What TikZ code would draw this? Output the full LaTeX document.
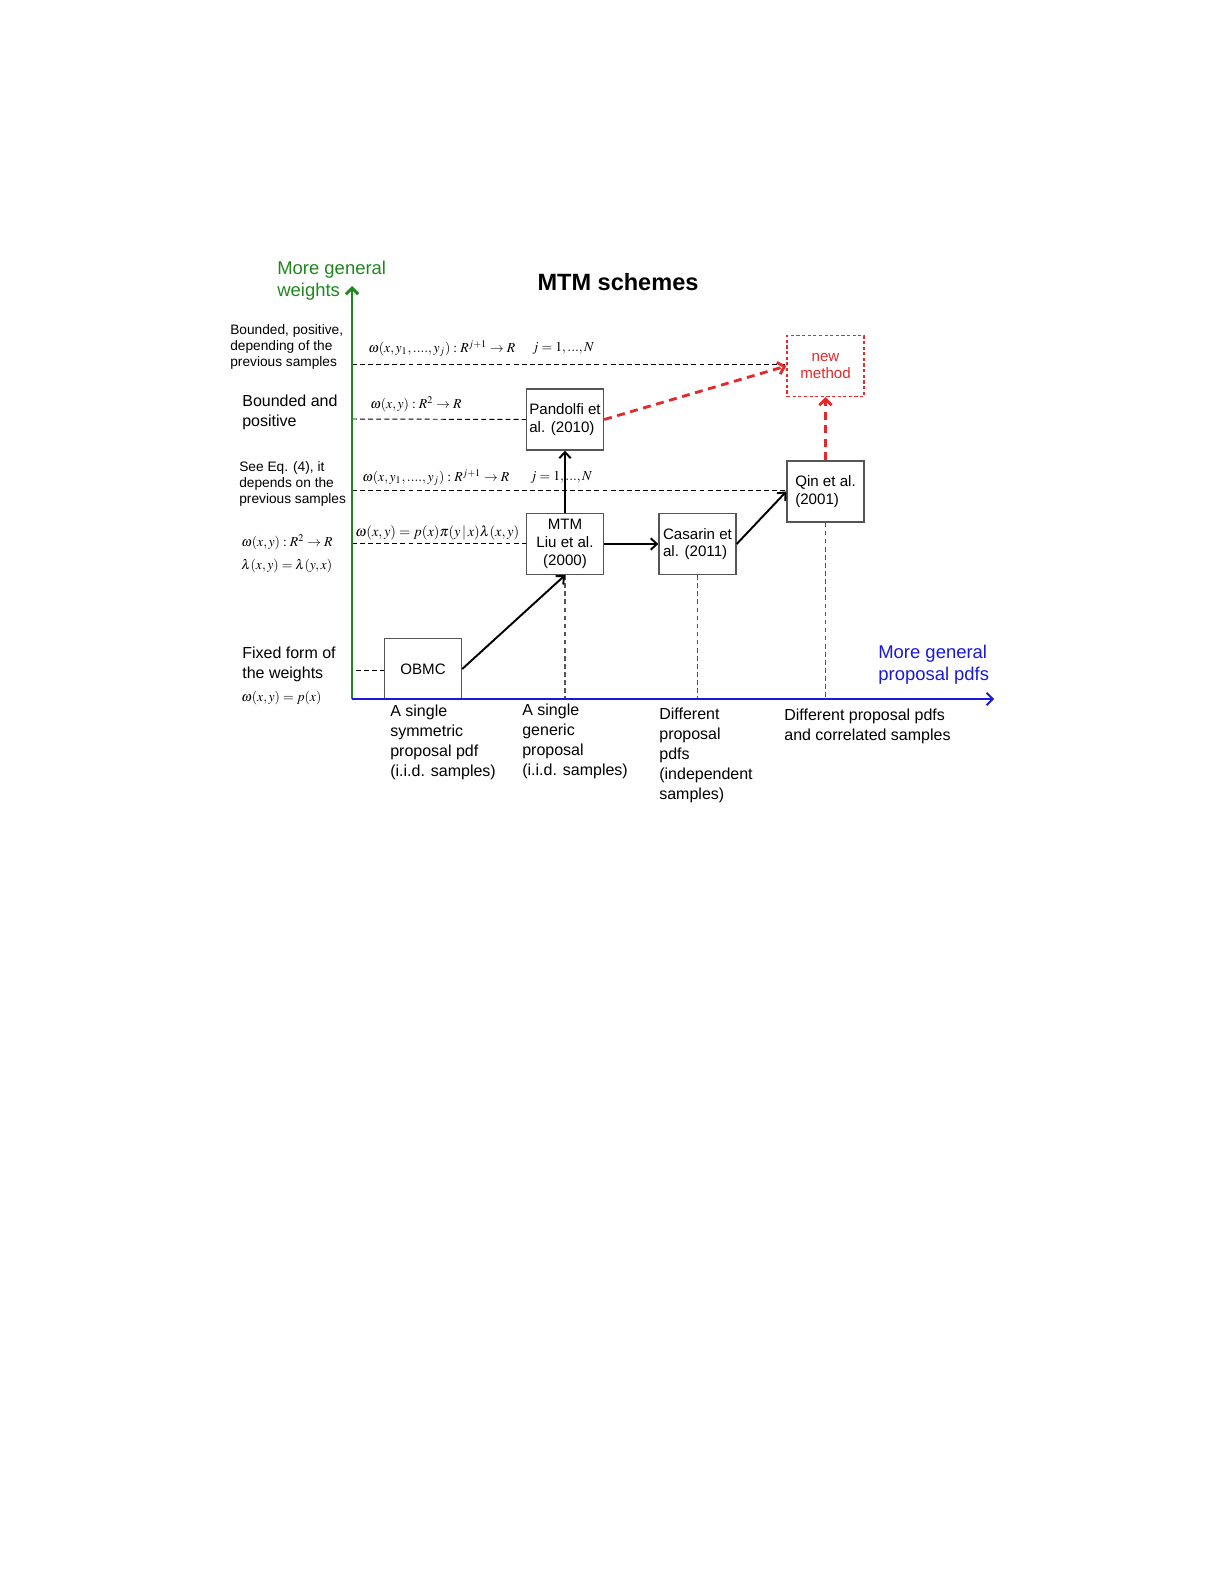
\documentclass[tikz,border=0pt]{standalone}
\usepackage{amsmath}
\usepackage{amssymb}
\usepackage{mathptmx}
\usepackage{fontspec}
\setmainfont{Liberation Sans}
\usepackage{tikz}
\usetikzlibrary{arrows, arrows.meta, positioning}
\definecolor{axisgreen}{RGB}{30,135,30}
\definecolor{axisblue}{RGB}{25,25,215}
\definecolor{newred}{RGB}{232,40,40}
\definecolor{boxgray}{RGB}{85,85,85}
\newcommand{\labelfont}{\fontsize{9.1}{11.3}\selectfont}
\newcommand{\notefont}{\fontsize{7.8}{9.3}\selectfont}
\newcommand{\boxfont}{\fontsize{8.6}{10.1}\selectfont}
\newcommand{\axisfont}{\fontsize{10.5}{12.4}\selectfont}
\newcommand{\titlefont}{\fontsize{13.4}{16}\selectfont\bfseries}
\newcommand{\formfont}{\fontsize{7.8}{9}\selectfont}
\tikzstyle{arrow} = [-{Straight Barb[length=3.5pt, width=6.5pt]}, line width=1.1pt]
\tikzstyle{newarrow} = [-{Straight Barb[length=3.5pt, width=7pt]}, newred, line width=1.6pt, dash pattern=on 4.5pt off 3.2pt]
\tikzstyle{guide} = [line width=0.55pt, dash pattern=on 2.8pt off 1.8pt]
\tikzstyle{drop} = [boxgray, line width=0.8pt, dash pattern=on 2.6pt off 2pt]
\tikzset{box/.style={draw=boxgray, line width=0.8pt, minimum width=1.54cm, minimum height=1.22cm, inner sep=1pt, font=\boxfont},
  txt/.style={inner sep=0pt, anchor=north west, align=left},
  form/.style={inner sep=0pt, anchor=west, font=\formfont},}

\begin{document}
\begin{tikzpicture}[x=0.02cm, y=-0.02cm]
            \useasboundingbox (0,0) rectangle (1225,1585);
            % Axis ends and the weight levels
            \coordinate (origin) at (352,699);
            \coordinate (ytop) at (352,286);
            \coordinate (xend) at (994,699);
            \coordinate (lvfix) at (356,670);
            \coordinate (lvsym) at (352,543);
            \coordinate (lvprev) at (352,490);
            \coordinate (lvbound) at (352,419);
            \coordinate (lvdep) at (352,364);

            % Draw the methods
            \node[box] (obmc) at (423,669) {OBMC};
            \node[box, align=center] (mtm) at (565,544) {MTM\\Liu et al.\\(2000)};
            \node[box, align=left] (pandolfi) at (565,419.5) {Pandolfi et\\al. (2010)};
            \node[box, align=left] (casarin) at (697.5,544) {Casarin et\\al. (2011)};
            \node[box, align=left] (qin) at (825.5,491.5) {Qin et al.\\(2001)};
            \node[box, draw=newred, dash pattern=on 1.8pt off 1.4pt, text=newred, align=center] (newm) at (825.5,366) {new\\method};

            % Dashed guides to the axes
            \draw[guide] (lvdep) -- (lvdep -| newm.west);
            \draw[guide] (lvbound) -- (pandolfi.west);
            \draw[guide] (lvprev) -- (lvprev -| qin.west);
            \draw[guide] (lvsym) -- (lvsym -| mtm.west);
            \draw[guide] (lvfix) -- (lvfix -| obmc.west);
            \draw[drop] (mtm.south) -- (mtm.south |- origin);
            \draw[drop] (casarin.south) -- (casarin.south |- origin);
            \draw[drop] (qin.south) -- (qin.south |- origin);

            % Draw coordinate axes
            \draw[-{Straight Barb[length=3.5pt, width=7pt]}, axisgreen, line width=1.7pt] (origin) -- (ytop);
            \draw[-{Straight Barb[length=3.5pt, width=7pt]}, axisblue, line width=1.1pt] (origin) -- (xend);

            % Links between the methods
            \draw[arrow] (obmc.east) -- (mtm.south);
            \draw[arrow] (mtm.north) -- (pandolfi.south);
            \draw[arrow] (mtm.east) -- (casarin.west);
            \draw[arrow] (casarin.east) -- (qin.west);
            \draw[newarrow] (pandolfi.east) -- (newm.west);
            \draw[newarrow] (qin.north) -- (newm.south);

            % Titles
            \node (title) at (618,282) {\titlefont MTM schemes};
            \node[txt, text=axisgreen, font=\axisfont] (ylabel) at (277,261) {More general\\weights};
            \node[txt, text=axisblue, font=\axisfont] (xlabel) at (878,645) {More general\\proposal pdfs};

            % Weights on the left
            \node[txt, font=\notefont] (wdep) at (230,324) {Bounded, positive,\\depending of the\\previous samples};
            \node[txt, font=\labelfont] (wbound) at (242,395) {Bounded and\\positive};
            \node[txt, font=\notefont] (wprev) at (239,461) {See Eq. (4), it\\depends on the\\previous samples};
            \node[form] (wsym) at (241,542) {$\omega(x,y):R^2\rightarrow R$};
            \node[form] (wsymm) at (241,566) {$\lambda(x,y)=\lambda(y,x)$};
            \node[txt, font=\labelfont] (wfix) at (242,647) {Fixed form of\\the weights};
            \node[form] (wfixf) at (241,698) {$\omega(x,y)=p(x)$};

            % Formulas on the guides
            \node[form] (fdep) at (368,349) {$\omega(x,y_1,....,y_j):R^{j+1}\rightarrow R$};
            \node[form] (fdepj) at (532,348) {$j=1,...,N$};
            \node[form] (fbound) at (370,404) {$\omega(x,y):R^2\rightarrow R$};
            \node[form] (fprev) at (362,478) {$\omega(x,y_1,....,y_j):R^{j+1}\rightarrow R$};
            \node[form] (fprevj) at (530,477) {$j=1,...,N$};
            \node[form, font=\fontsize{8.2}{9}\selectfont] (fsym) at (355,533) {$\omega(x,y)=p(x)\pi(y\,|\,x)\lambda(x,y)$};

            % Proposals below the axis
            \node[txt, font=\labelfont] (psym) at (390,705) {A single\\symmetric\\proposal pdf\\(i.i.d. samples)};
            \node[txt, font=\labelfont] (pgen) at (522,704) {A single\\generic\\proposal\\(i.i.d. samples)};
            \node[txt, font=\labelfont] (pdiff) at (659,708) {Different\\proposal\\pdfs\\(independent\\samples)};
            \node[txt, font=\labelfont] (pcorr) at (784,709) {Different proposal pdfs\\and correlated samples};
        \end{tikzpicture}
\end{document}
